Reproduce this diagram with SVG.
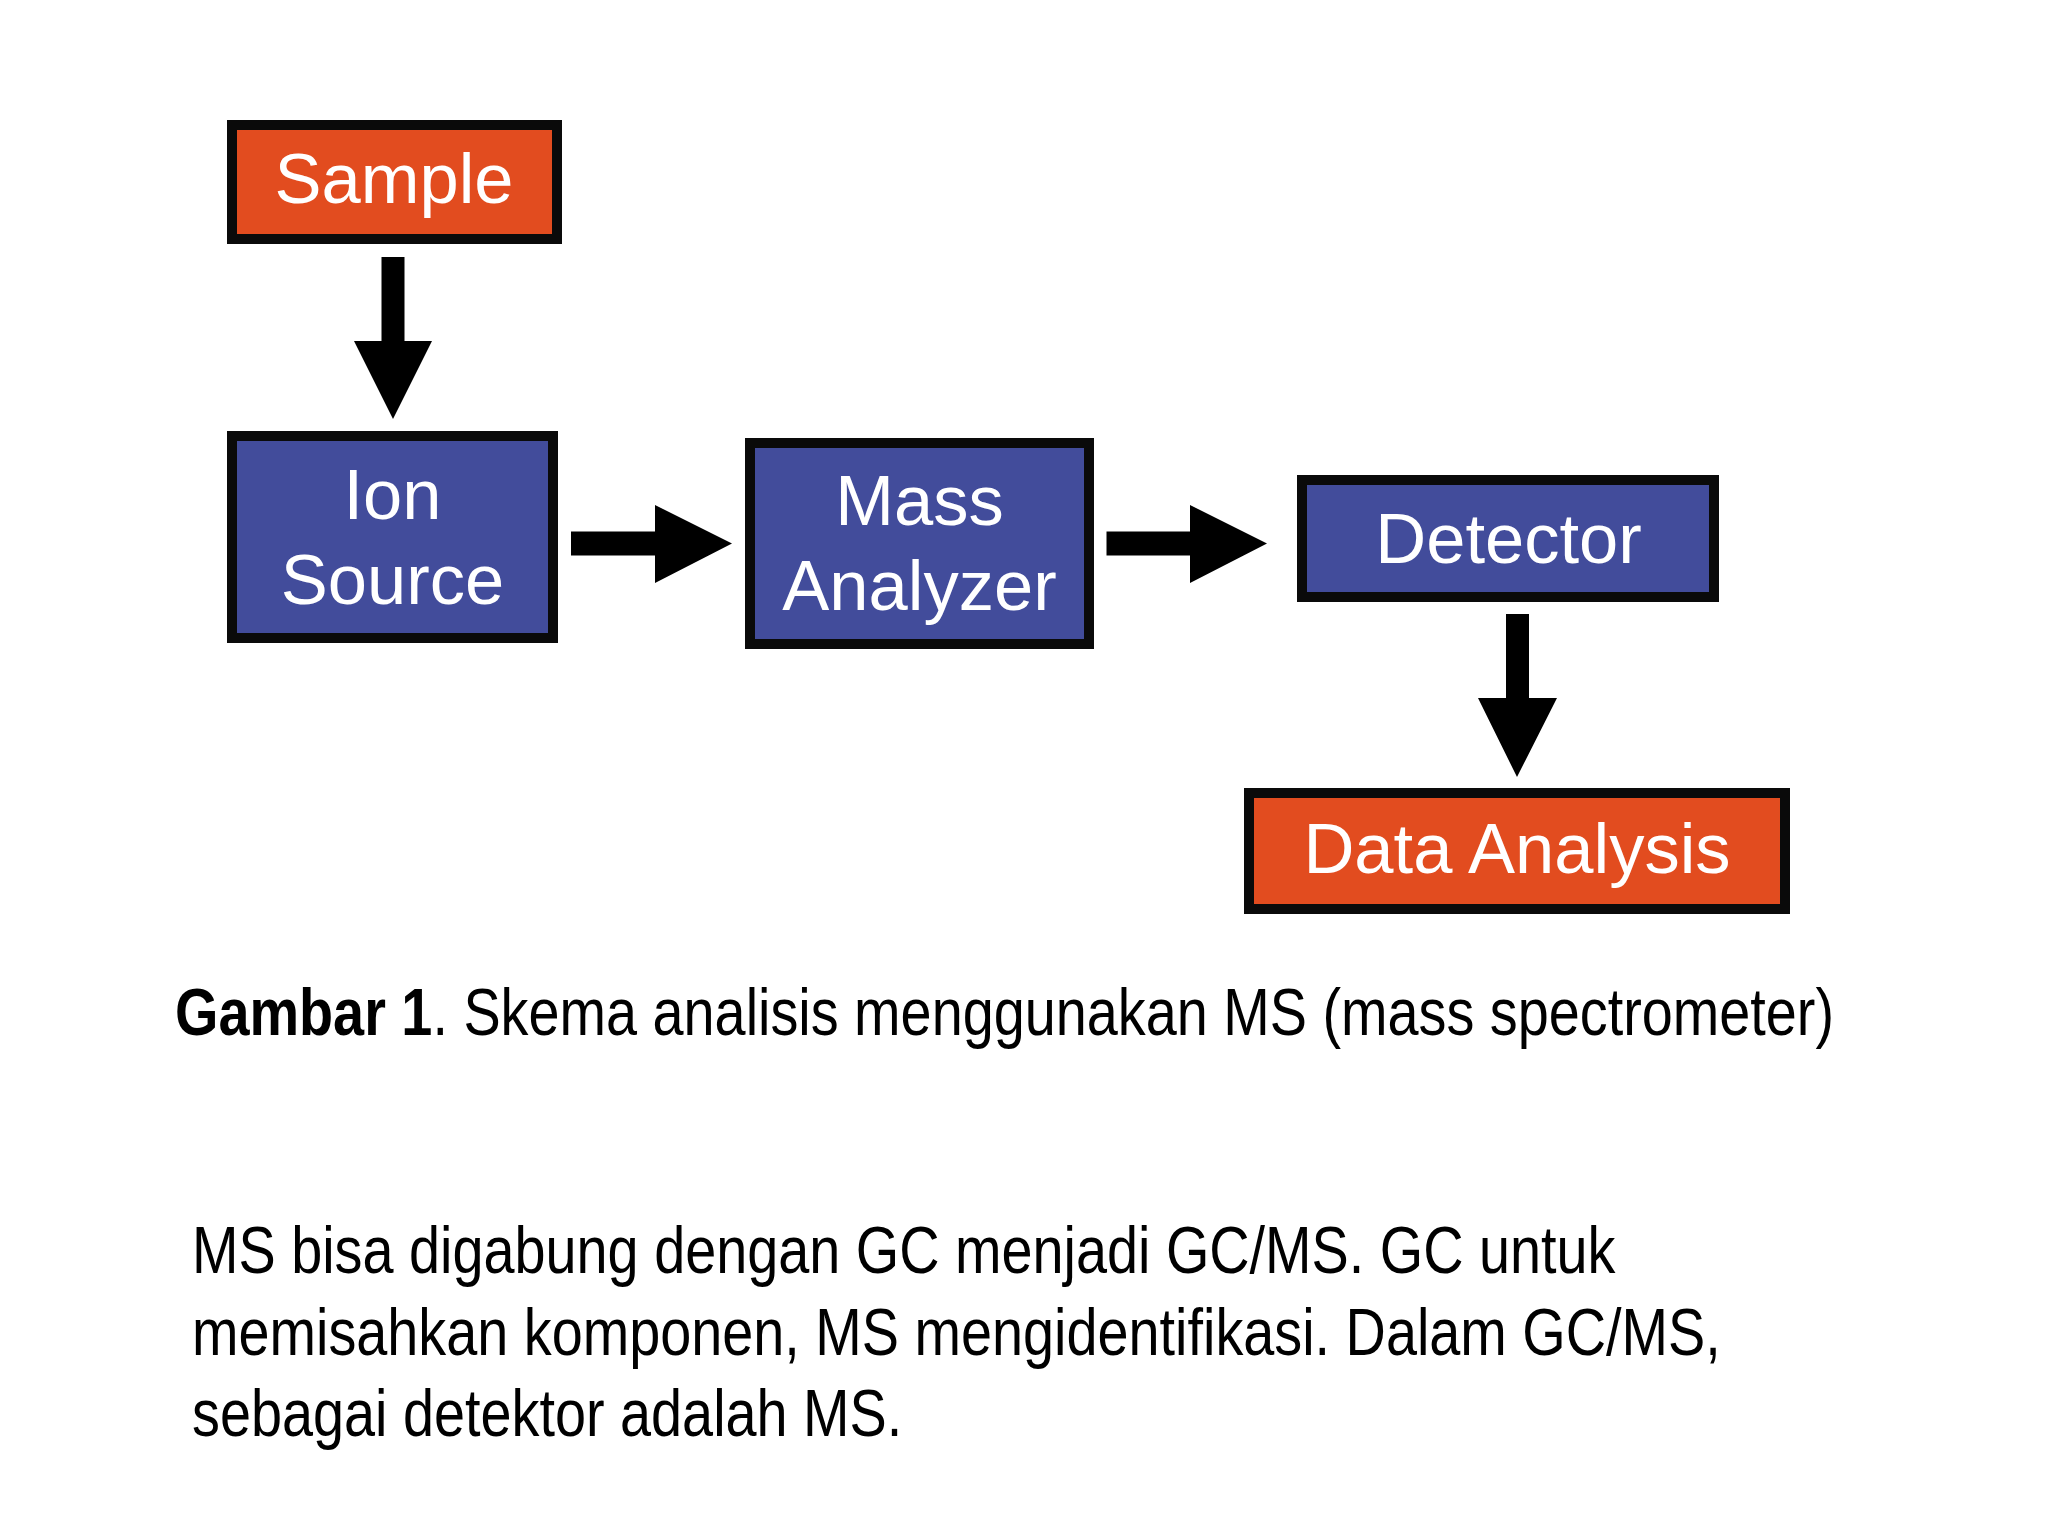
<svg xmlns="http://www.w3.org/2000/svg" width="2048" height="1536" viewBox="0 0 2048 1536">
<style>
.box{stroke:#0a0a0a;stroke-width:10}
.orange{fill:#E24C1F}
.blue{fill:#424C9B}
.lbl{font-family:"Liberation Sans",Arial,sans-serif;font-size:70.5px;fill:#ffffff;text-anchor:middle}
.arrow{fill:#000000}
.txt{font-family:"Liberation Sans",Arial,sans-serif;font-size:67px;fill:#000000}
</style>
<rect width="2048" height="1536" fill="#ffffff"/>
<g id="connectors">
<polygon class="arrow" points="381.5,257 404.5,257 404.5,341 432,341 393,419 354,341 381.5,341"/>
<polygon class="arrow" points="571,531.5 655,531.5 655,505 732,543.5 655,583 655,555.5 571,555.5"/>
<polygon class="arrow" points="1106.5,531.5 1190,531.5 1190,505 1267,543.5 1190,583 1190,555.5 1106.5,555.5"/>
<polygon class="arrow" points="1506,614 1529,614 1529,698 1557,698 1517,777 1478,698 1506,698"/>
</g>
<g id="sample">
<rect class="box orange" x="232" y="125" width="325" height="114"/>
<text class="lbl" x="394" y="203">Sample</text>
</g>
<g id="ion-source">
<rect class="box blue" x="232" y="436" width="321" height="202"/>
<text class="lbl" x="392.5" y="519">Ion</text>
<text class="lbl" x="392.5" y="604">Source</text>
</g>
<g id="mass-analyzer">
<rect class="box blue" x="750" y="443" width="339" height="201"/>
<text class="lbl" x="919.5" y="525">Mass</text>
<text class="lbl" x="919.5" y="610">Analyzer</text>
</g>
<g id="detector">
<rect class="box blue" x="1302" y="480" width="412" height="117"/>
<text class="lbl" x="1508.5" y="563">Detector</text>
</g>
<g id="data-analysis">
<rect class="box orange" x="1249" y="793" width="536" height="116"/>
<text class="lbl" x="1517" y="873">Data Analysis</text>
</g>
<g id="caption" transform="translate(175,1035) scale(0.833,1)">
<text class="txt" x="0" y="0"><tspan font-weight="bold">Gambar 1</tspan>. Skema analisis menggunakan MS (mass spectrometer)</text>
</g>
<g id="body" transform="translate(192,0) scale(0.833,1)">
<text class="txt" x="0" y="1273">MS bisa digabung dengan GC menjadi GC/MS. GC untuk</text>
<text class="txt" x="0" y="1355">memisahkan komponen, MS mengidentifikasi. Dalam GC/MS,</text>
<text class="txt" x="0" y="1436">sebagai detektor adalah MS.</text>
</g>
</svg>
